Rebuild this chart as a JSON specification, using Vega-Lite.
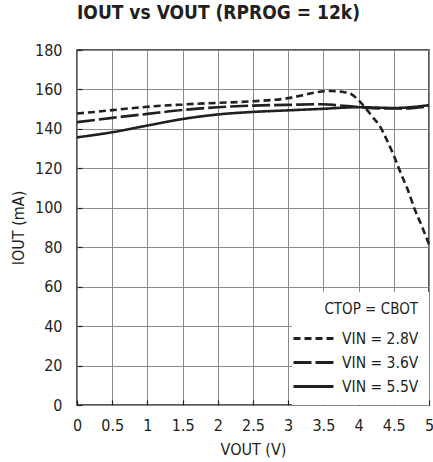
{
  "$schema": "https://vega.github.io/schema/vega-lite/v6.json",
  "autosize": "none",
  "width": 352,
  "height": 355,
  "padding": {"left": 77, "top": 50, "right": 4, "bottom": 57},
  "background": "white",
  "title": {
    "text": "IOUT vs VOUT (RPROG = 12k)",
    "font": "DejaVu Sans Condensed, sans-serif",
    "fontSize": 19,
    "fontWeight": "bold",
    "color": "#231f20",
    "anchor": "start",
    "frame": "group",
    "offset": 19
  },
  "config": {
    "view": {"stroke": "#231f20", "strokeWidth": 1.5},
    "font": "DejaVu Sans Condensed, sans-serif",
    "axis": {
      "labelFont": "DejaVu Sans Condensed, sans-serif",
      "titleFont": "DejaVu Sans Condensed, sans-serif",
      "labelFontSize": 16,
      "titleFontSize": 16,
      "titleFontWeight": "normal",
      "labelColor": "#231f20",
      "titleColor": "#231f20",
      "gridColor": "#8a8a8a",
      "gridWidth": 1,
      "gridOpacity": 1,
      "domain": false,
      "tickColor": "#231f20",
      "tickSize": -5,
      "tickWidth": 1.2
    }
  },
  "data": {
    "values": [
      {"v": 0, "i": 147.8, "s": "VIN = 2.8V"},
      {"v": 0.25, "i": 148.6, "s": "VIN = 2.8V"},
      {"v": 0.5, "i": 149.5, "s": "VIN = 2.8V"},
      {"v": 0.75, "i": 150.4, "s": "VIN = 2.8V"},
      {"v": 1, "i": 151.2, "s": "VIN = 2.8V"},
      {"v": 1.5, "i": 152.4, "s": "VIN = 2.8V"},
      {"v": 2, "i": 153.2, "s": "VIN = 2.8V"},
      {"v": 2.5, "i": 154, "s": "VIN = 2.8V"},
      {"v": 3, "i": 155.6, "s": "VIN = 2.8V"},
      {"v": 3.2, "i": 157, "s": "VIN = 2.8V"},
      {"v": 3.4, "i": 158.6, "s": "VIN = 2.8V"},
      {"v": 3.6, "i": 159.2, "s": "VIN = 2.8V"},
      {"v": 3.8, "i": 158.6, "s": "VIN = 2.8V"},
      {"v": 3.9, "i": 157.5, "s": "VIN = 2.8V"},
      {"v": 4.0, "i": 154.5, "s": "VIN = 2.8V"},
      {"v": 4.1, "i": 150.5, "s": "VIN = 2.8V"},
      {"v": 4.2, "i": 146, "s": "VIN = 2.8V"},
      {"v": 4.3, "i": 141.5, "s": "VIN = 2.8V"},
      {"v": 4.4, "i": 134.5, "s": "VIN = 2.8V"},
      {"v": 4.5, "i": 126.5, "s": "VIN = 2.8V"},
      {"v": 4.6, "i": 117.5, "s": "VIN = 2.8V"},
      {"v": 4.7, "i": 109, "s": "VIN = 2.8V"},
      {"v": 4.8, "i": 99, "s": "VIN = 2.8V"},
      {"v": 4.9, "i": 90.5, "s": "VIN = 2.8V"},
      {"v": 5, "i": 81.5, "s": "VIN = 2.8V"},
      {"v": 0, "i": 143.4, "s": "VIN = 3.6V"},
      {"v": 0.5, "i": 145.6, "s": "VIN = 3.6V"},
      {"v": 1, "i": 147.6, "s": "VIN = 3.6V"},
      {"v": 1.5, "i": 149.6, "s": "VIN = 3.6V"},
      {"v": 2, "i": 151, "s": "VIN = 3.6V"},
      {"v": 2.5, "i": 151.8, "s": "VIN = 3.6V"},
      {"v": 3, "i": 152.2, "s": "VIN = 3.6V"},
      {"v": 3.5, "i": 152.5, "s": "VIN = 3.6V"},
      {"v": 3.7, "i": 152, "s": "VIN = 3.6V"},
      {"v": 4, "i": 151, "s": "VIN = 3.6V"},
      {"v": 4.3, "i": 150.4, "s": "VIN = 3.6V"},
      {"v": 4.6, "i": 150.3, "s": "VIN = 3.6V"},
      {"v": 5, "i": 151.5, "s": "VIN = 3.6V"},
      {"v": 0, "i": 135.7, "s": "VIN = 5.5V"},
      {"v": 0.5, "i": 138.3, "s": "VIN = 5.5V"},
      {"v": 1, "i": 141.7, "s": "VIN = 5.5V"},
      {"v": 1.5, "i": 145, "s": "VIN = 5.5V"},
      {"v": 2, "i": 147.3, "s": "VIN = 5.5V"},
      {"v": 2.5, "i": 148.6, "s": "VIN = 5.5V"},
      {"v": 3, "i": 149.4, "s": "VIN = 5.5V"},
      {"v": 3.5, "i": 150.2, "s": "VIN = 5.5V"},
      {"v": 4, "i": 151, "s": "VIN = 5.5V"},
      {"v": 4.5, "i": 150.6, "s": "VIN = 5.5V"},
      {"v": 5, "i": 152, "s": "VIN = 5.5V"}
    ]
  },
  "mark": {"type": "line", "color": "#231f20", "strokeWidth": 2.6, "interpolate": "monotone"},
  "encoding": {
    "x": {
      "field": "v",
      "type": "quantitative",
      "scale": {"domain": [0, 5], "nice": false},
      "axis": {
        "values": [0, 0.5, 1, 1.5, 2, 2.5, 3, 3.5, 4, 4.5, 5],
        "format": "~g",
        "title": "VOUT (V)",
        "labelPadding": 17,
        "titlePadding": 8,
        "labelFlush": false
      }
    },
    "y": {
      "field": "i",
      "type": "quantitative",
      "scale": {"domain": [0, 180], "nice": false},
      "axis": {
        "values": [0, 20, 40, 60, 80, 100, 120, 140, 160, 180],
        "title": "IOUT (mA)",
        "labelPadding": 20,
        "titlePadding": 8,
        "labelFlush": false
      }
    },
    "strokeDash": {
      "field": "s",
      "type": "nominal",
      "scale": {
        "domain": ["VIN = 2.8V", "VIN = 3.6V", "VIN = 5.5V"],
        "range": [[7, 4], [18, 4], [1, 0]]
      },
      "legend": {
        "title": "CTOP = CBOT",
        "orient": "bottom-right",
        "offset": 0,
        "padding": 10,
        "fillColor": "white",
        "titleFont": "DejaVu Sans Condensed, sans-serif",
        "labelFont": "DejaVu Sans Condensed, sans-serif",
        "titleFontSize": 15,
        "titleFontWeight": "normal",
        "titleColor": "#231f20",
        "titleAnchor": "end",
        "titlePadding": 10,
        "labelFontSize": 15.5,
        "labelColor": "#231f20",
        "symbolType": "M-2,0H2",
        "symbolSize": 400,
        "symbolStrokeWidth": 3,
        "symbolStrokeColor": "#231f20",
        "symbolFillColor": "transparent",
        "rowPadding": 4,
        "labelOffset": 17
      }
    }
  }
}
